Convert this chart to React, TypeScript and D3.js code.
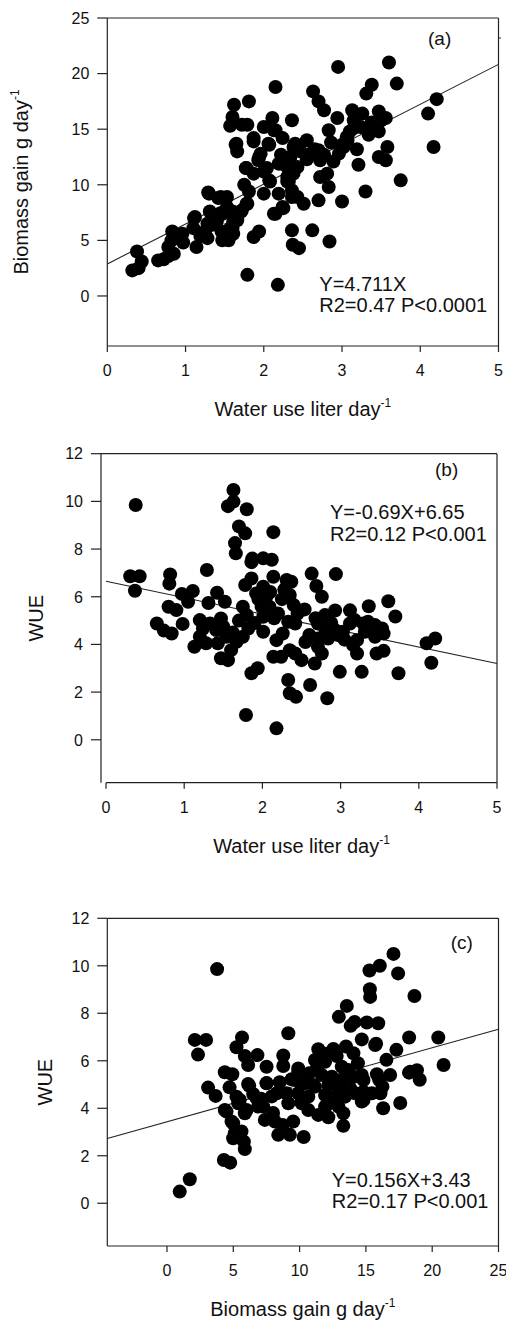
import React from "react";
import * as d3 from "d3";

const FONT = "'Liberation Sans', Arial, Helvetica, sans-serif";

// Panel (a): water use (liter/day) vs biomass gain (g/day)
const waterBiomass: [number, number][] = [
  [0.32,2.3],[0.40,2.5],[0.44,3.1],[0.38,4.0],[0.65,3.2],[0.72,3.3],[0.78,3.6],[0.85,3.8],[0.78,4.4],[0.82,5.0],
  [0.83,5.8],[0.97,4.8],[0.96,5.6],[0.90,5.3],[1.14,4.4],[1.10,6.1],[1.11,7.0],[1.19,5.4],[1.25,5.8],[1.28,5.2],
  [1.28,6.5],[1.31,7.6],[1.30,9.2],[1.34,6.4],[1.40,6.7],[1.45,8.9],[1.53,8.9],[1.44,7.3],[1.47,7.4],[1.47,5.0],
  [1.53,5.3],[1.46,5.8],[1.55,5.0],[1.57,6.1],[1.61,6.7],[1.60,6.1],[1.61,5.6],[1.66,6.8],[1.66,7.0],[1.71,7.6],
  [1.53,8.0],[1.79,8.3],[1.81,9.4],[1.75,10.0],[1.87,5.3],[1.94,5.8],[1.79,1.9],[2.18,1.0],[1.72,7.7],
  [2.00,9.2],[2.19,9.2],[2.13,7.4],[2.24,8.0],[1.77,11.5],[1.87,11.0],[1.94,12.5],[1.96,12.8],[2.00,11.2],[2.04,11.5],
  [2.07,10.4],[2.30,10.3],[2.36,8.9],[2.36,5.9],[2.37,4.6],[2.45,4.3],[2.62,5.9],[2.84,4.9],[1.64,13.6],[1.66,13.0],
  [1.60,16.1],[1.57,15.3],[1.62,17.2],[1.81,17.5],[1.72,15.4],[1.79,15.4],[1.87,14.2],[1.87,13.9],[2.15,18.8],[2.00,15.2],
  [2.11,16.0],[2.15,14.9],[2.24,14.2],[2.07,13.6],[2.36,15.8],[2.22,12.7],[2.19,11.9],[2.30,10.7],[2.36,9.5],[2.38,13.4],
  [2.38,11.5],[2.34,12.5],[2.43,11.6],[2.38,11.0],[2.47,13.0],[2.55,14.0],[2.40,13.7],[2.63,18.4],[2.70,17.5],[2.77,16.7],
  [2.94,16.0],[2.95,20.6],[3.60,21.0],[3.70,19.1],[3.38,19.0],[3.31,18.2],[3.13,16.7],[3.26,16.4],[3.47,16.6],[3.56,16.0],
  [3.15,15.8],[4.21,17.7],[4.10,16.4],[4.17,13.4],[3.75,10.4],[2.83,14.9],[3.15,15.1],[3.24,15.2],[3.34,14.5],[3.47,14.8],
  [3.06,14.3],[3.00,13.6],[2.96,12.8],[3.19,13.2],[3.58,13.4],[3.47,12.5],[3.56,12.2],[3.21,11.8],[2.89,12.1],[2.77,12.7],
  [2.70,13.1],[2.72,12.2],[2.81,11.0],[2.72,10.7],[2.83,9.8],[3.30,9.4],[3.00,8.5],[2.70,8.6],[2.43,8.9],[2.51,8.3],
  [2.25,7.9],[2.15,7.4],[1.78,8.3],[2.06,13.7],[2.13,14.9],[1.65,13.7],[2.08,10.3],[1.93,12.2],[1.78,11.5],[1.42,8.8],
  [1.29,9.3],[1.12,7.1],[1.44,7.4],[1.60,7.6],[2.23,11.9],[2.30,11.6],[2.32,10.3],[2.60,12.8],[2.55,12.3],[2.65,13.2],
  [3.10,14.8],[3.02,13.4],[3.07,14.0],[2.86,13.8],[3.38,15.6],[3.50,15.8]
];

// Panel (b): water use vs WUE
const waterWUE: [number, number][] = [
  [0.38,9.85],[1.63,10.48],[1.56,9.80],[1.63,9.99],[1.80,9.67],[1.70,8.95],[1.78,8.66],[1.65,8.25],[1.66,7.82],[2.14,8.71],
  [1.87,7.60],[1.86,7.45],[2.01,7.61],[2.12,7.55],[0.31,6.86],[0.43,6.86],[0.37,6.25],[0.82,6.93],[0.81,6.55],[1.29,7.12],
  [2.63,6.97],[2.94,6.95],[2.69,6.45],[2.76,6.00],[2.37,6.63],[2.14,6.84],[2.31,6.70],[0.97,6.12],[1.11,6.24],[1.05,5.79],
  [1.42,6.17],[1.52,5.79],[1.31,5.74],[1.78,6.49],[1.86,6.77],[1.92,6.14],[2.01,6.42],[2.35,6.07],[1.99,5.58],[2.09,5.58],
  [1.75,5.58],[1.80,5.23],[2.01,5.16],[2.01,4.53],[2.18,4.18],[2.14,3.48],[2.24,3.48],[2.26,4.46],[2.33,4.95],[3.61,5.81],
  [3.36,5.60],[3.12,5.43],[3.70,5.17],[2.93,5.42],[2.80,5.23],[2.40,5.65],[2.54,5.47],[0.80,5.58],[0.90,5.44],[0.65,4.88],
  [0.74,4.58],[0.84,4.46],[0.98,4.86],[1.20,5.02],[1.24,4.67],[1.33,4.88],[1.20,4.32],[1.13,3.90],[1.28,4.05],[1.41,4.60],
  [1.47,5.09],[1.50,4.74],[1.54,4.32],[1.43,4.05],[1.47,3.42],[1.56,3.34],[1.60,3.76],[1.67,4.11],[1.75,4.32],[1.82,4.67],
  [1.86,2.79],[1.94,3.00],[1.79,1.04],[2.18,0.48],[2.33,2.51],[2.35,1.95],[2.42,4.88],[2.71,4.88],[2.80,4.67],[2.93,4.60],
  [3.03,4.53],[3.12,4.88],[3.18,5.02],[3.29,4.88],[3.44,4.81],[3.53,4.67],[3.55,4.46],[3.44,4.32],[3.31,4.53],[3.21,4.18],
  [3.16,3.97],[2.97,4.39],[2.84,4.25],[2.71,4.25],[2.71,3.90],[2.76,3.62],[2.67,3.20],[2.42,3.62],[2.50,3.34],[2.35,3.76],
  [4.10,4.05],[4.21,4.25],[4.16,3.23],[3.46,3.62],[3.55,3.73],[3.21,3.62],[3.27,2.85],[2.99,2.85],[3.74,2.79],[2.43,1.80],
  [2.61,2.30],[2.83,1.74],[2.60,4.40],[2.55,4.10],[2.88,4.90],[3.05,4.20],[3.35,4.95],[2.20,5.30],[2.25,5.90],[2.05,6.00],
  [1.95,5.90],[2.10,6.20],[2.28,6.30],[1.70,5.00],[1.62,4.50],[1.90,4.90],[2.15,5.10],[2.45,5.30],[2.68,5.10],[3.48,4.60]
];

// Panel (c): biomass gain vs WUE
const biomassWUE: [number, number][] = [
  [3.78,9.86],[17.08,10.50],[15.27,9.80],[16.05,10.00],[17.43,9.68],[15.30,9.01],[15.32,8.69],[18.66,8.73],[13.56,8.31],[12.96,7.85],
  [14.15,7.63],[13.85,7.47],[15.07,7.61],[15.93,7.58],[18.26,6.98],[20.46,6.98],[9.15,7.16],[2.10,6.88],[2.95,6.88],[5.66,6.98],
  [14.69,6.90],[15.77,6.72],[2.34,6.26],[0.96,0.49],[1.72,1.01],[4.29,1.82],[4.77,1.71],[5.87,2.28],[5.80,2.59],[4.99,2.74],
  [5.49,2.95],[5.62,3.02],[4.99,3.37],[4.49,3.86],[3.10,4.87],[3.67,4.52],[4.36,5.52],[4.93,5.43],[4.72,4.88],[5.49,4.35],
  [6.00,3.93],[6.20,4.95],[6.12,5.82],[5.87,6.20],[6.82,6.24],[7.51,5.75],[7.51,5.06],[6.76,4.42],[7.10,4.40],[7.26,4.07],
  [7.38,3.51],[8.27,4.63],[8.14,3.44],[8.39,2.88],[8.72,3.30],[9.27,2.88],[9.15,4.21],[9.52,3.44],[10.31,2.79],[8.77,6.22],
  [8.77,5.78],[9.40,5.22],[9.90,5.55],[10.16,4.35],[10.66,3.93],[11.04,4.98],[10.72,5.47],[11.41,6.49],[11.16,6.03],[12.17,3.62],
  [11.92,4.07],[12.55,6.50],[13.30,3.26],[13.30,3.79],[13.50,6.60],[14.06,6.32],[14.69,5.40],[14.82,4.35],[15.70,6.66],[15.83,5.43],
  [16.10,4.63],[16.30,4.00],[16.55,6.04],[16.83,5.40],[17.30,6.46],[17.59,4.22],[18.25,5.50],[18.85,5.60],[19.06,5.20],[20.86,5.82],
  [5.24,6.57],[5.37,4.21],[6.88,4.07],[5.87,3.79],[4.87,3.44],[5.12,2.95],[4.36,3.93],[5.24,4.49],[9.02,4.63],[6.12,5.02],
  [7.51,5.05],[11.92,5.96],[13.18,5.75],[13.68,5.61],[9.90,5.68],[11.67,5.40],[12.43,5.33],[13.18,5.19],[10.41,5.05],[11.16,4.91],
  [12.17,4.98],[12.93,4.91],[13.81,4.84],[9.90,4.63],[10.66,4.49],[11.92,4.56],[12.68,4.49],[13.43,4.49],[14.19,4.63],[15.45,4.63],
  [10.16,4.21],[12.05,4.14],[12.93,4.07],[11.41,3.72],[14.82,5.19],[14.82,4.70],[14.69,4.28],[14.06,5.33],[16.25,4.91],[18.35,5.54],
  [6.50,4.60],[7.90,4.50],[8.50,5.10],[10.00,5.10],[11.30,5.70],[12.80,6.20],[14.40,5.90],[12.00,6.30],[16.00,5.20],[8.00,3.80]
];

const xTicksWater = [0, 1, 2, 3, 4, 5];
const yTicksBiomass = [0, 5, 10, 15, 20, 25];
const yTicksWUE = [0, 2, 4, 6, 8, 10, 12];
const xTicksBiomass = [0, 5, 10, 15, 20, 25];

const fitA = { slope: 3.59, intercept: 2.88 };
const fitB = { slope: -0.69, intercept: 6.65 };
const fitC = { slope: 0.156, intercept: 3.43 };

const annA = ["Y=4.711X", "R2=0.47 P<0.0001"];
const annB = ["Y=-0.69X+6.65", "R2=0.12 P<0.001"];
const annC = ["Y=0.156X+3.43", "R2=0.17 P<0.001"];

type PanelProps = {
  data: [number, number][];
  xDomain: [number, number];
  yDomain: [number, number];
  xRange: [number, number];
  top: number;
  bottom: number;
  yAxisX: number;
  xTicks: number[];
  yTicks: number[];
  fit: { slope: number; intercept: number };
  letter: string;
  letterPos: [number, number];
  ann: string[];
  annPos: [number, number];
  xTitle: string;
  yTitle: string;
  ySup: boolean;
  yTitleX: number;
  extraTick?: number;
};

const INK = "#111";
const AXIS = "#222";

function Panel(p: PanelProps) {
  const x = d3.scaleLinear().domain(p.xDomain).range(p.xRange);
  const y = d3.scaleLinear().domain(p.yDomain).range([p.bottom, p.top]);
  const [x0, x1] = p.xRange;
  const line = d3
    .line<number>()
    .x((d) => x(d))
    .y((d) => y(p.fit.intercept + p.fit.slope * d));
  const xMid = (x0 + x1) / 2;
  const yMid = (p.top + p.bottom) / 2;
  return (
    <g>
      {/* frame */}
      <line x1={p.yAxisX} x2={p.yAxisX} y1={p.top} y2={p.bottom} stroke={AXIS} strokeWidth={1.2} />
      <line x1={x0} x2={x1} y1={p.bottom} y2={p.bottom} stroke={AXIS} strokeWidth={1.2} />
      <line x1={p.yAxisX} x2={x1} y1={p.top} y2={p.top} stroke={AXIS} strokeWidth={1.2} />
      <line x1={x1} x2={x1} y1={p.top} y2={p.bottom} stroke={AXIS} strokeWidth={1.2} />
      {p.extraTick !== undefined && (
        <line x1={x1} x2={x1 + 2.5} y1={y(p.extraTick)} y2={y(p.extraTick)} stroke={AXIS} strokeWidth={1} />
      )}
      {/* y ticks */}
      {p.yTicks.map((t) => (
        <g key={"y" + t}>
          <line x1={p.yAxisX - 10} x2={p.yAxisX} y1={y(t)} y2={y(t)} stroke={AXIS} strokeWidth={1.2} />
          <text x={p.yAxisX - 18} y={y(t)} dy="0.36em" textAnchor="end" fontSize={16} fontFamily={FONT} fill={INK}>
            {t}
          </text>
        </g>
      ))}
      {/* x ticks */}
      {p.xTicks.map((t) => (
        <g key={"x" + t}>
          <line x1={x(t)} x2={x(t)} y1={p.bottom} y2={p.bottom + 6} stroke={AXIS} strokeWidth={1.2} />
          <text x={x(t)} y={p.bottom + 30} textAnchor="middle" fontSize={16} fontFamily={FONT} fill={INK}>
            {t}
          </text>
        </g>
      ))}
      {/* regression line */}
      <path d={line([p.xDomain[0], p.xDomain[1]]) || ""} fill="none" stroke="#222" strokeWidth={1.1} />
      {/* points */}
      {p.data.map((d, i) => (
        <circle key={i} cx={x(d[0])} cy={y(d[1])} r={7} fill="#000" />
      ))}
      {/* letter */}
      <text x={p.letterPos[0]} y={p.letterPos[1]} fontSize={19} fontFamily={FONT} fill={INK}>
        {p.letter}
      </text>
      {/* annotation */}
      {p.ann.map((s, i) => (
        <text key={i} x={p.annPos[0]} y={p.annPos[1] + i * 21.5} fontSize={20} fontFamily={FONT} fill={INK}>
          {s}
        </text>
      ))}
      {/* x title */}
      <text x={xMid} y={p.bottom + 70} textAnchor="middle" fontSize={20} fontFamily={FONT} fill={INK}>
        {p.xTitle}
        <tspan fontSize={12} dy={-9}>-1</tspan>
      </text>
      {/* y title */}
      <text
        transform={`translate(${p.yTitleX},${yMid}) rotate(-90)`}
        textAnchor="middle"
        fontSize={20}
        fontFamily={FONT}
        fill={INK}
      >
        {p.yTitle}
        {p.ySup && <tspan fontSize={12} dy={-9}>-1</tspan>}
      </text>
    </g>
  );
}

export default function App() {
  return (
    <svg
      width={506}
      height={1322}
      viewBox="0 0 506 1322"
      style={{ position: "absolute", left: 0, top: 0, background: "#fff" }}
    >
      <rect x={0} y={0} width={506} height={1322} fill="#fff" />
      <Panel
        data={waterBiomass}
        xDomain={[0, 5]}
        yDomain={[-4.5, 25]}
        xRange={[107.3, 498.5]}
        top={18}
        bottom={346}
        yAxisX={107.3}
        xTicks={xTicksWater}
        yTicks={yTicksBiomass}
        fit={fitA}
        letter="(a)"
        letterPos={[428, 45]}
        ann={annA}
        annPos={[319.3, 290.7]}
        xTitle="Water use liter day"
        yTitle="Biomass gain g day"
        ySup={true}
        yTitleX={28.3}
        extraTick={23.2}
      />
      <Panel
        data={waterWUE}
        xDomain={[0, 5]}
        yDomain={[-1.8, 12]}
        xRange={[106, 497]}
        top={453.7}
        bottom={782.7}
        yAxisX={101}
        xTicks={xTicksWater}
        yTicks={yTicksWUE}
        fit={fitB}
        letter="(b)"
        letterPos={[435, 476]}
        ann={annB}
        annPos={[330, 519]}
        xTitle="Water use liter day"
        yTitle="WUE"
        ySup={false}
        yTitleX={43.3}
      />
      <Panel
        data={biomassWUE}
        xDomain={[-4.5, 25]}
        yDomain={[-1.8, 12]}
        xRange={[107.3, 498.5]}
        top={918.3}
        bottom={1246}
        yAxisX={107.3}
        xTicks={xTicksBiomass}
        yTicks={yTicksWUE}
        fit={fitC}
        letter="(c)"
        letterPos={[450.7, 949]}
        ann={annC}
        annPos={[331.7, 1186.7]}
        xTitle="Biomass gain g day"
        yTitle="WUE"
        ySup={false}
        yTitleX={51.7}
      />
    </svg>
  );
}
